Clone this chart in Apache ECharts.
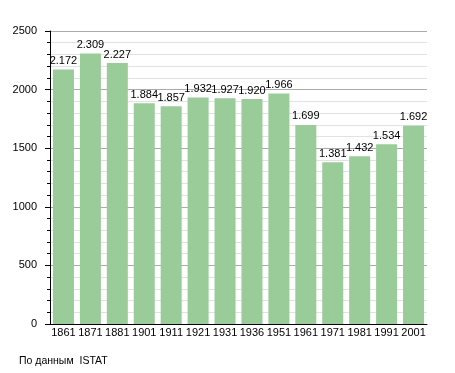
<!DOCTYPE html>
<html><head><meta charset="utf-8">
<script src="https://cdn.jsdelivr.net/npm/echarts@6/dist/echarts.min.js"></script>
<style>html,body{margin:0;padding:0;background:#fff}#c{width:455px;height:373px}</style>
</head><body><div id="c"></div>
<script>
const years = ['1861','1871','1881','1901','1911','1921','1931','1936','1951','1961','1971','1981','1991','2001'];
const population = [2172,2309,2227,1884,1857,1932,1927,1920,1966,1699,1381,1432,1534,1692];
const yTicks = [0,500,1000,1500,2000,2500];
const sourceText = 'По данным  ISTAT';

const fmt = v => String(v).replace(/\B(?=(\d{3})+(?!\d))/g, '.');
const chart = echarts.init(document.getElementById('c'), null, {renderer:'canvas'});
chart.setOption({
  animation:false,
  textStyle:{fontFamily:'Liberation Sans'},
  grid:{left:50,right:28,top:31,bottom:49,containLabel:false},
  graphic:[{type:'text',left:19,top:356,style:{text:sourceText,fill:'#000',font:'10.5px Liberation Sans'}}],
  xAxis:{type:'category',data:years,
    axisLine:{lineStyle:{color:'#000',width:1}},
    axisTick:{show:false},
    axisLabel:{color:'#000',fontSize:11,margin:3,interval:0}},
  yAxis:{type:'value',min:yTicks[0],max:yTicks[yTicks.length-1],interval:500,
    axisLine:{show:true,lineStyle:{color:'#000'}},
    axisTick:{show:true,length:5,lineStyle:{color:'#000'}},
    minorTick:{show:true,splitNumber:5,length:3,lineStyle:{color:'#000'}},
    splitLine:{show:true,lineStyle:{color:'#aaaaaa'}},
    minorSplitLine:{show:true,lineStyle:{color:'#e2e2e2'}},
    axisLabel:{color:'#000',fontSize:11,margin:13,formatter:v=>String(v)}},
  series:[{type:'bar',data:population,barCategoryGap:'22%',
    itemStyle:{color:'#99cc99'},
    label:{show:true,position:'top',distance:3,color:'#000',fontSize:11,formatter:p=>fmt(p.value)}}]
});
</script></body></html>
